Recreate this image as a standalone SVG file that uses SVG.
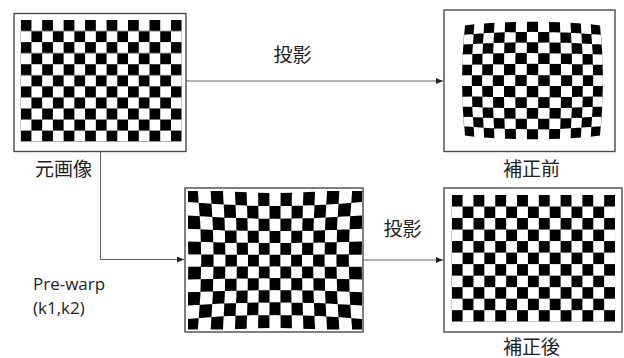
<svg xmlns="http://www.w3.org/2000/svg" width="624" height="358" viewBox="0 0 624 358">
<style>
.frame{fill:#fff;stroke:#4a4a4a;stroke-width:1.4}
.board{fill:#000;fill-rule:evenodd}
.conn{fill:none;stroke:#666;stroke-width:1.1}
.cjk{font-family:"Noto Sans CJK JP","Noto Sans CJK SC",sans-serif;font-size:19px;fill:#222;text-anchor:middle}
.lat{font-family:"Open Sans","Liberation Sans",sans-serif;font-size:17px;fill:#222}
</style>
<defs>
<marker id="arr" markerUnits="userSpaceOnUse" markerWidth="8" markerHeight="7" refX="7" refY="3" orient="auto">
<path d="M0,0 L7,3 L0,6 Z" fill="#222"/>
</marker>
<pattern id="chk1" patternUnits="userSpaceOnUse" x="20.7" y="20" width="21.467" height="22.12">
<rect x="0" y="0" width="10.733" height="11.06" fill="#000"/>
<rect x="10.733" y="11.06" width="10.733" height="11.06" fill="#000"/>
</pattern>
<pattern id="chk4" patternUnits="userSpaceOnUse" x="451.7" y="195" width="21.78" height="23.04">
<rect x="0" y="0" width="10.89" height="11.52" fill="#000"/>
<rect x="10.89" y="11.52" width="10.89" height="11.52" fill="#000"/>
</pattern>
<clipPath id="clip3"><rect x="188" y="191" width="174" height="138.5"/></clipPath>
</defs>

<g id="connectors">
<path class="conn" d="M186,81 H443" marker-end="url(#arr)"/>
<path class="conn" d="M100.5,152 V259.5 H184" marker-end="url(#arr)"/>
<path class="conn" d="M363,260 H443" marker-end="url(#arr)"/>
<text class="cjk" x="292.5" y="61.5">投影</text>
<text class="cjk" x="402.5" y="236">投影</text>
<text class="lat" x="33" y="290">Pre-warp</text>
<text class="lat" x="33" y="314">(k1,k2)</text>
</g>

<g id="original">
<rect class="frame" x="14" y="13.5" width="172" height="138"/>
<rect x="20.7" y="20" width="161" height="121.7" fill="url(#chk1)"/>
<text class="cjk" x="63.5" y="175.5">元画像</text>
</g>

<g id="before-correction">
<rect class="frame" x="444" y="10" width="171" height="141.5"/>
<path class="board" d="M465,25.42 Q459,80.5 465,135.58 L474.3,136.63 Q469.23,80.5 474.3,24.37 Z
M484.15,23.5 Q480,80.5 484.15,137.5 L494.43,138.19 Q491.21,80.5 494.43,22.81 Z
M505.06,22.29 Q502.76,80.5 505.06,138.71 L515.94,139.06 Q514.55,80.5 515.94,21.94 Z
M526.96,21.77 Q526.5,80.5 526.96,139.23 L538.04,139.23 Q538.5,80.5 538.04,21.77 Z
M549.06,21.94 Q550.45,80.5 549.06,139.06 L559.94,138.71 Q562.24,80.5 559.94,22.29 Z
M570.57,22.81 Q573.79,80.5 570.57,138.19 L580.86,137.5 Q585.01,80.5 580.86,23.5 Z
M590.7,24.37 Q595.77,80.5 590.7,136.63 L600,135.58 Q606,80.5 600,25.42 Z
M464.01,34.77 Q532.5,28.76 600.99,34.77 L601.79,44.52 Q532.5,39.85 463.21,44.52 Z
M462.62,54.58 Q532.5,51.24 602.38,54.58 L602.78,64.86 Q532.5,62.86 462.22,64.86 Z
M462.02,75.27 Q532.5,74.6 602.98,75.27 L602.98,85.73 Q532.5,86.4 462.02,85.73 Z
M462.22,96.14 Q532.5,98.14 602.78,96.14 L602.38,106.42 Q532.5,109.76 462.62,106.42 Z
M463.21,116.48 Q532.5,121.15 601.79,116.48 L600.99,126.23 Q532.5,132.24 464.01,126.23 Z"/>
<text class="cjk" x="531.5" y="175.5">補正前</text>
</g>

<g id="prewarp">
<rect class="frame" x="185" y="188" width="178" height="144"/>
<path class="board" clip-path="url(#clip3)" d="M184.16,187.76 Q192.39,260.5 184.16,333.24 L197.66,331.96 Q204.8,260.5 197.66,189.04 Z
M210.56,190.14 Q216.6,260.5 210.56,330.86 L222.96,329.95 Q227.9,260.5 222.96,191.05 Z
M234.95,191.78 Q238.8,260.5 234.95,329.22 L246.62,328.67 Q249.37,260.5 246.62,192.33 Z
M258.07,192.7 Q259.72,260.5 258.07,328.3 L269.37,328.12 Q269.92,260.5 269.37,192.88 Z
M280.63,192.88 Q280.08,260.5 280.63,328.12 L291.93,328.3 Q290.28,260.5 291.93,192.7 Z
M303.38,192.33 Q300.63,260.5 303.38,328.67 L315.05,329.22 Q311.2,260.5 315.05,191.78 Z
M327.04,191.05 Q322.1,260.5 327.04,329.95 L339.44,330.86 Q333.4,260.5 339.44,190.14 Z
M352.34,189.04 Q345.2,260.5 352.34,331.96 L365.84,333.24 Q357.61,260.5 365.84,187.76 Z
M185.52,201.88 Q275,210.29 364.48,201.88 L363.39,215.46 Q275,222.01 186.61,215.46 Z
M187.43,228.63 Q275,233.3 362.57,228.63 L362.03,241.49 Q275,244.3 187.97,241.49 Z
M188.24,254.19 Q275,255.12 361.76,254.19 L361.76,266.82 Q275,265.88 188.24,266.82 Z
M187.97,279.51 Q275,276.7 362.03,279.51 L362.57,292.38 Q275,287.7 187.43,292.38 Z
M186.61,305.54 Q275,299 363.39,305.54 L364.48,319.12 Q275,310.71 185.52,319.12 Z"/>
</g>

<g id="after-correction">
<rect class="frame" x="444" y="188" width="178" height="144"/>
<rect x="451.7" y="195" width="163.35" height="126.72" fill="url(#chk4)"/>
<text class="cjk" x="531.5" y="353.5">補正後</text>
</g>
</svg>
